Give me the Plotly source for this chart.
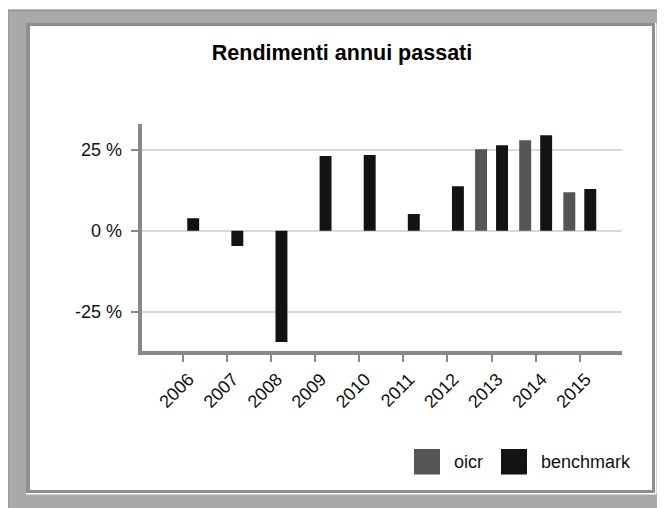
import plotly.graph_objects as go

# ---- data ----
years = ["2006", "2007", "2008", "2009", "2010", "2011", "2012", "2013", "2014", "2015"]
oicr = [None, None, None, None, None, None, None, 25.2, 28.0, 11.9]
benchmark = [3.9, -4.7, -34.3, 23.1, 23.4, 5.2, 13.8, 26.4, 29.5, 12.9]
series_names = ["oicr", "benchmark"]
y_tickvals = [-25, 0, 25]
y_ticktext = ["-25 %", "0 %", "25 %"]
title_text = "Rendimenti annui passati"

# ---- styles ----
OFF = 8  # default page body margin
W, H = 665 - OFF, 508 - OFF
C_OICR = "#555555"
C_BENCH = "#131313"
FONT = "Liberation Sans, Arial, sans-serif"


def px(x):
    return (x - OFF) / W


def py(y):
    return 1 - (y - OFF) / H


fig = go.Figure()
fig.add_trace(go.Bar(x=years, y=oicr, name=series_names[0], marker_color=C_OICR,
                     marker_line_width=0, showlegend=False))
fig.add_trace(go.Bar(x=years, y=benchmark, name=series_names[1], marker_color=C_BENCH,
                     marker_line_width=0, showlegend=False))

shapes = [
    # outer gray frame
    dict(type="rect", xref="paper", yref="paper", x0=px(7), x1=px(666), y0=py(9.5), y1=py(509),
         fillcolor="#a9a9a9", line_width=0, layer="below"),
    dict(type="rect", xref="paper", yref="paper", x0=px(7), x1=px(666), y0=py(9.5), y1=py(11.5),
         fillcolor="#9a9a9a", line_width=0, layer="below"),
    dict(type="rect", xref="paper", yref="paper", x0=px(7), x1=px(9), y0=py(9.5), y1=py(509),
         fillcolor="#9a9a9a", line_width=0, layer="below"),
    # bevel highlight
    dict(type="rect", xref="paper", yref="paper", x0=px(26), x1=px(656.5), y0=py(23), y1=py(494.5),
         fillcolor="#ffffff", line_width=0, layer="below"),
    # dark border
    dict(type="rect", xref="paper", yref="paper", x0=px(26), x1=px(655), y0=py(23), y1=py(493),
         fillcolor="#8e8e8e", line_width=0, layer="below"),
    # white panel
    dict(type="rect", xref="paper", yref="paper", x0=px(30), x1=px(652), y0=py(26), y1=py(490),
         fillcolor="#ffffff", line_width=0, layer="below"),
    # legend swatches
    dict(type="rect", xref="paper", yref="paper", x0=px(414), x1=px(440), y0=py(449), y1=py(474.5),
         fillcolor=C_OICR, line_width=0),
    dict(type="rect", xref="paper", yref="paper", x0=px(501), x1=px(527), y0=py(449), y1=py(474.5),
         fillcolor=C_BENCH, line_width=0),
]

annotations = [
    dict(text=series_names[0], xref="paper", yref="paper", x=px(452), y=py(462), xanchor="left",
         yanchor="middle", showarrow=False, font=dict(size=18, color="#111111", family=FONT)),
    dict(text=series_names[1], xref="paper", yref="paper", x=px(539), y=py(462), xanchor="left",
         yanchor="middle", showarrow=False, font=dict(size=18, color="#111111", family=FONT)),
]

fig.update_layout(
    width=W, height=H,
    margin=dict(l=0, r=0, t=0, b=0, pad=0),
    paper_bgcolor="#ffffff",
    plot_bgcolor="rgba(0,0,0,0)",
    font=dict(family=FONT, size=18, color="#111111"),
    title=dict(text=title_text, x=px(342), y=py(52), xanchor="center", yanchor="middle",
               xref="paper", yref="paper",
               font=dict(size=21.5, family=FONT, color="#000000", weight="bold")),
    barmode="group",
    bargap=0.05,
    bargroupgap=0.43,
    showlegend=False,
    shapes=shapes,
    annotations=annotations,
    xaxis=dict(
        domain=[px(141.7), px(621.7)],
        type="category",
        range=[-0.93, 9.95],
        showline=True, linecolor="#888888", linewidth=4,
        ticks="outside", ticklen=7, tickwidth=2, tickcolor="#888888",
        tickangle=-45, showgrid=False, zeroline=False,
        tickfont=dict(size=18, color="#111111"),
        ticklabelshift=6,
    ),
    yaxis=dict(
        domain=[py(350.7), py(124)],
        range=[-37, 33],
        tickvals=y_tickvals, ticktext=y_ticktext,
        showline=True, linecolor="#888888", linewidth=4,
        ticks="outside", ticklen=7, tickwidth=2, tickcolor="#888888",
        showgrid=True, gridcolor="#d9d9d9", gridwidth=2,
        zeroline=False,
        tickfont=dict(size=18, color="#111111"),
        ticklabelstandoff=5,
    ),
)

fig.write_html("out.html")
